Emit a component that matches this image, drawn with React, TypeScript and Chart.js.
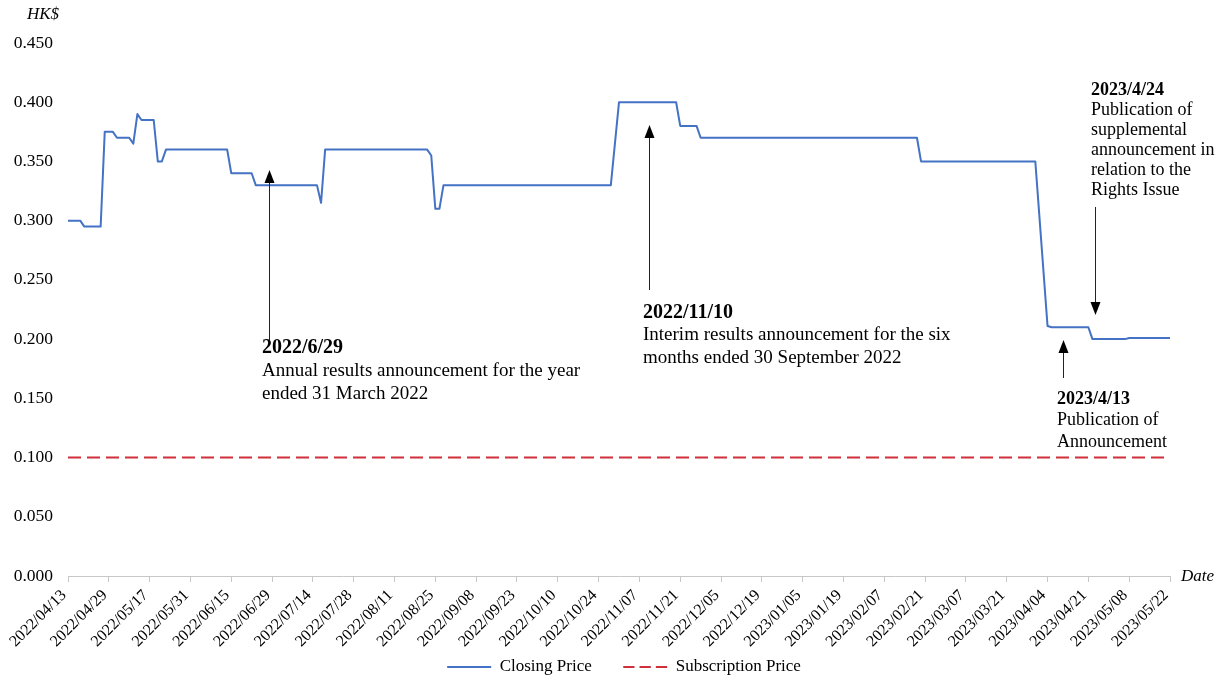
import React, { useEffect, useRef } from 'react';
import { Chart, registerables } from 'chart.js';

Chart.register(...registerables);

// ---- Data ----
// X-axis tick labels (every 10th trading day, starting at trading day 0)
const tickLabels = [
  '2022/04/13', '2022/04/29', '2022/05/17', '2022/05/31', '2022/06/15', '2022/06/29',
  '2022/07/14', '2022/07/28', '2022/08/11', '2022/08/25', '2022/09/08', '2022/09/23',
  '2022/10/10', '2022/10/24', '2022/11/07', '2022/11/21', '2022/12/05', '2022/12/19',
  '2023/01/05', '2023/01/19', '2023/02/07', '2023/02/21', '2023/03/07', '2023/03/21',
  '2023/04/04', '2023/04/21', '2023/05/08', '2023/05/22',
];
const daysPerTick = 10;
const lastTradingDay = 270;

// Closing price: trading-day index of each price change and the price at that day
const tradingDay = [
  0, 3, 4, 8, 9, 11, 12, 15, 16, 17, 18, 21, 22, 23, 24, 39, 40, 45, 46, 61, 62, 63,
  88, 89, 90, 91, 92, 133, 135, 149, 150, 154, 155, 208, 209, 237, 240, 241, 250, 251,
  259, 260, 270,
];
const closingPrice = [
  0.300, 0.300, 0.295, 0.295, 0.375, 0.375, 0.370, 0.370, 0.365, 0.390, 0.385, 0.385,
  0.350, 0.350, 0.360, 0.360, 0.340, 0.340, 0.330, 0.330, 0.315, 0.360,
  0.360, 0.355, 0.310, 0.310, 0.330, 0.330, 0.400, 0.400, 0.380, 0.380, 0.370, 0.370,
  0.350, 0.350, 0.211, 0.210, 0.210, 0.200, 0.200, 0.201, 0.201,
];
const subscriptionPrice = 0.1;

const yMin = 0;
const yMax = 0.45;
const yStep = 0.05;

const seriesNames = ['Closing Price', 'Subscription Price'];

// Annotations: date headline + description lines
const annotationTexts = [
  { head: '2022/6/29', lines: ['Annual results announcement for the year', 'ended 31 March 2022'] },
  { head: '2022/11/10', lines: ['Interim results announcement for the six', 'months ended 30 September 2022'] },
  { head: '2023/4/13', lines: ['Publication of', 'Announcement'] },
  {
    head: '2023/4/24',
    lines: ['Publication of', 'supplemental', 'announcement in', 'relation to the', 'Rights Issue'],
  },
];

// ---- Layout / style (pixels) ----
const FONT = "'Liberation Serif', 'Times New Roman', Times, serif";
const annotationLayout = [
  { arrowX: 269, tailY: 340, tipY: 170, textX: 262, textY: 348, lineGap: 23, size: 19, headSize: 20 },
  { arrowX: 649, tailY: 290, tipY: 125, textX: 643, textY: 313, lineGap: 22.5, size: 19, headSize: 20 },
  { arrowX: 1063, tailY: 378, tipY: 340, textX: 1057, textY: 399, lineGap: 21.5, size: 18, headSize: 18 },
  { arrowX: 1095, tailY: 207, tipY: 315, textX: 1091, textY: 90, lineGap: 20, size: 18, headSize: 18 },
];

function drawArrow(ctx: CanvasRenderingContext2D, x: number, tailY: number, tipY: number) {
  const dir = tipY < tailY ? -1 : 1;
  const headLen = 13;
  const headHalf = 5;
  ctx.beginPath();
  ctx.strokeStyle = '#222';
  ctx.lineWidth = 1;
  ctx.moveTo(x + 0.5, tailY);
  ctx.lineTo(x + 0.5, tipY - dir * headLen);
  ctx.stroke();
  ctx.beginPath();
  ctx.fillStyle = '#000';
  ctx.moveTo(x + 0.5, tipY);
  ctx.lineTo(x + 0.5 - headHalf, tipY - dir * headLen);
  ctx.lineTo(x + 0.5 + headHalf, tipY - dir * headLen);
  ctx.closePath();
  ctx.fill();
}

const overlayPlugin = {
  id: 'overlayText',
  afterDraw(chart: any) {
    const ctx: CanvasRenderingContext2D = chart.ctx;
    ctx.save();
    ctx.fillStyle = '#000';
    ctx.textBaseline = 'middle';
    ctx.textAlign = 'left';
    ctx.font = `italic 17px ${FONT}`;
    ctx.fillText('HK$', 27, 15);
    ctx.fillText('Date', 1181, 577);

    annotationTexts.forEach((a, i) => {
      const l = annotationLayout[i];
      drawArrow(ctx, l.arrowX, l.tailY, l.tipY);
      ctx.fillStyle = '#000';
      ctx.font = `bold ${l.headSize}px ${FONT}`;
      ctx.fillText(a.head, l.textX, l.textY);
      ctx.font = `${l.size}px ${FONT}`;
      a.lines.forEach((t, j) => {
        ctx.fillText(t, l.textX, l.textY + (j + 1) * l.lineGap);
      });
    });
    ctx.restore();
  },
};

// Let the rotated x labels extend below the x-scale box and nudge the legend
const layoutTweakPlugin = {
  id: 'layoutTweak',
  afterLayout(chart: any) {
    const x = chart.scales.x;
    if (x) x.bottom = chart.height;
    const lg = chart.legend;
    if (lg) {
      lg.left += 39;
      lg.right += 39;
    }
  },
};

export default function App() {
  const canvasRef = useRef<HTMLCanvasElement | null>(null);

  useEffect(() => {
    if (!canvasRef.current) return;
    const closingData = tradingDay.map((d, i) => ({ x: d, y: closingPrice[i] }));
    const subscriptionData = [
      { x: 0, y: subscriptionPrice },
      { x: lastTradingDay, y: subscriptionPrice },
    ];

    const chart = new Chart(canvasRef.current, {
      type: 'line',
      data: {
        datasets: [
          {
            label: seriesNames[0],
            data: closingData,
            borderColor: '#4472C4',
            backgroundColor: '#4472C4',
            borderWidth: 2,
            pointRadius: 0,
            tension: 0,
            borderJoinStyle: 'round',
          },
          {
            label: seriesNames[1],
            data: subscriptionData,
            borderColor: '#D0303A',
            backgroundColor: '#D0303A',
            borderWidth: 2,
            borderDash: [13, 6],
            pointRadius: 0,
            tension: 0,
          },
        ],
      },
      options: {
        animation: false,
        responsive: false,
        maintainAspectRatio: false,
        layout: { padding: { left: 0, right: 54, top: 43, bottom: 0 } },
        scales: {
          x: {
            type: 'linear',
            min: 0,
            max: lastTradingDay,
            afterFit: (s: any) => {
              s.height = 51;
            },
            grid: {
              drawOnChartArea: false,
              drawTicks: true,
              tickLength: 6,
              color: '#c8c8c8',
            },
            border: { display: true, color: '#c8c8c8', width: 1 },
            ticks: {
              stepSize: daysPerTick,
              autoSkip: false,
              maxRotation: 45,
              minRotation: 45,
              padding: 4,
              labelOffset: -4,
              color: '#000',
              font: { family: FONT, size: 16 },
              callback: (v: any) => tickLabels[Math.round(Number(v) / daysPerTick)] ?? '',
            },
          },
          y: {
            min: yMin,
            max: yMax,
            afterFit: (s: any) => {
              s.width = 68;
            },
            grid: { display: false, drawTicks: false },
            border: { display: false },
            ticks: {
              stepSize: yStep,
              padding: 15,
              color: '#000',
              font: { family: FONT, size: 17.5 },
              callback: (v: any) => Number(v).toFixed(3),
            },
          },
        },
        plugins: {
          legend: {
            position: 'bottom',
            maxHeight: 49,
            labels: {
              usePointStyle: true,
              pointStyle: 'line',
              pointStyleWidth: 44,
              padding: 31.5,
              color: '#000',
              font: { family: FONT, size: 17 },
              generateLabels: (ch: any) => {
                const items = (Chart.defaults as any).plugins.legend.labels.generateLabels(ch);
                items.forEach((it: any) => {
                  const ds = ch.data.datasets[it.datasetIndex];
                  it.lineDash = ds.borderDash ? [11.3, 5] : [];
                  it.lineWidth = ds.borderWidth;
                  it.strokeStyle = ds.borderColor;
                  it.lineCap = 'butt';
                });
                return items;
              },
            },
          },
          tooltip: { enabled: false },
        },
      },
      plugins: [overlayPlugin, layoutTweakPlugin],
    } as any);

    return () => chart.destroy();
  }, []);

  return (
    <div style={{ position: 'absolute', left: 0, top: 0, width: 1224, height: 676, background: '#fff' }}>
      <canvas ref={canvasRef} width={1224} height={676} style={{ display: 'block' }} />
    </div>
  );
}
